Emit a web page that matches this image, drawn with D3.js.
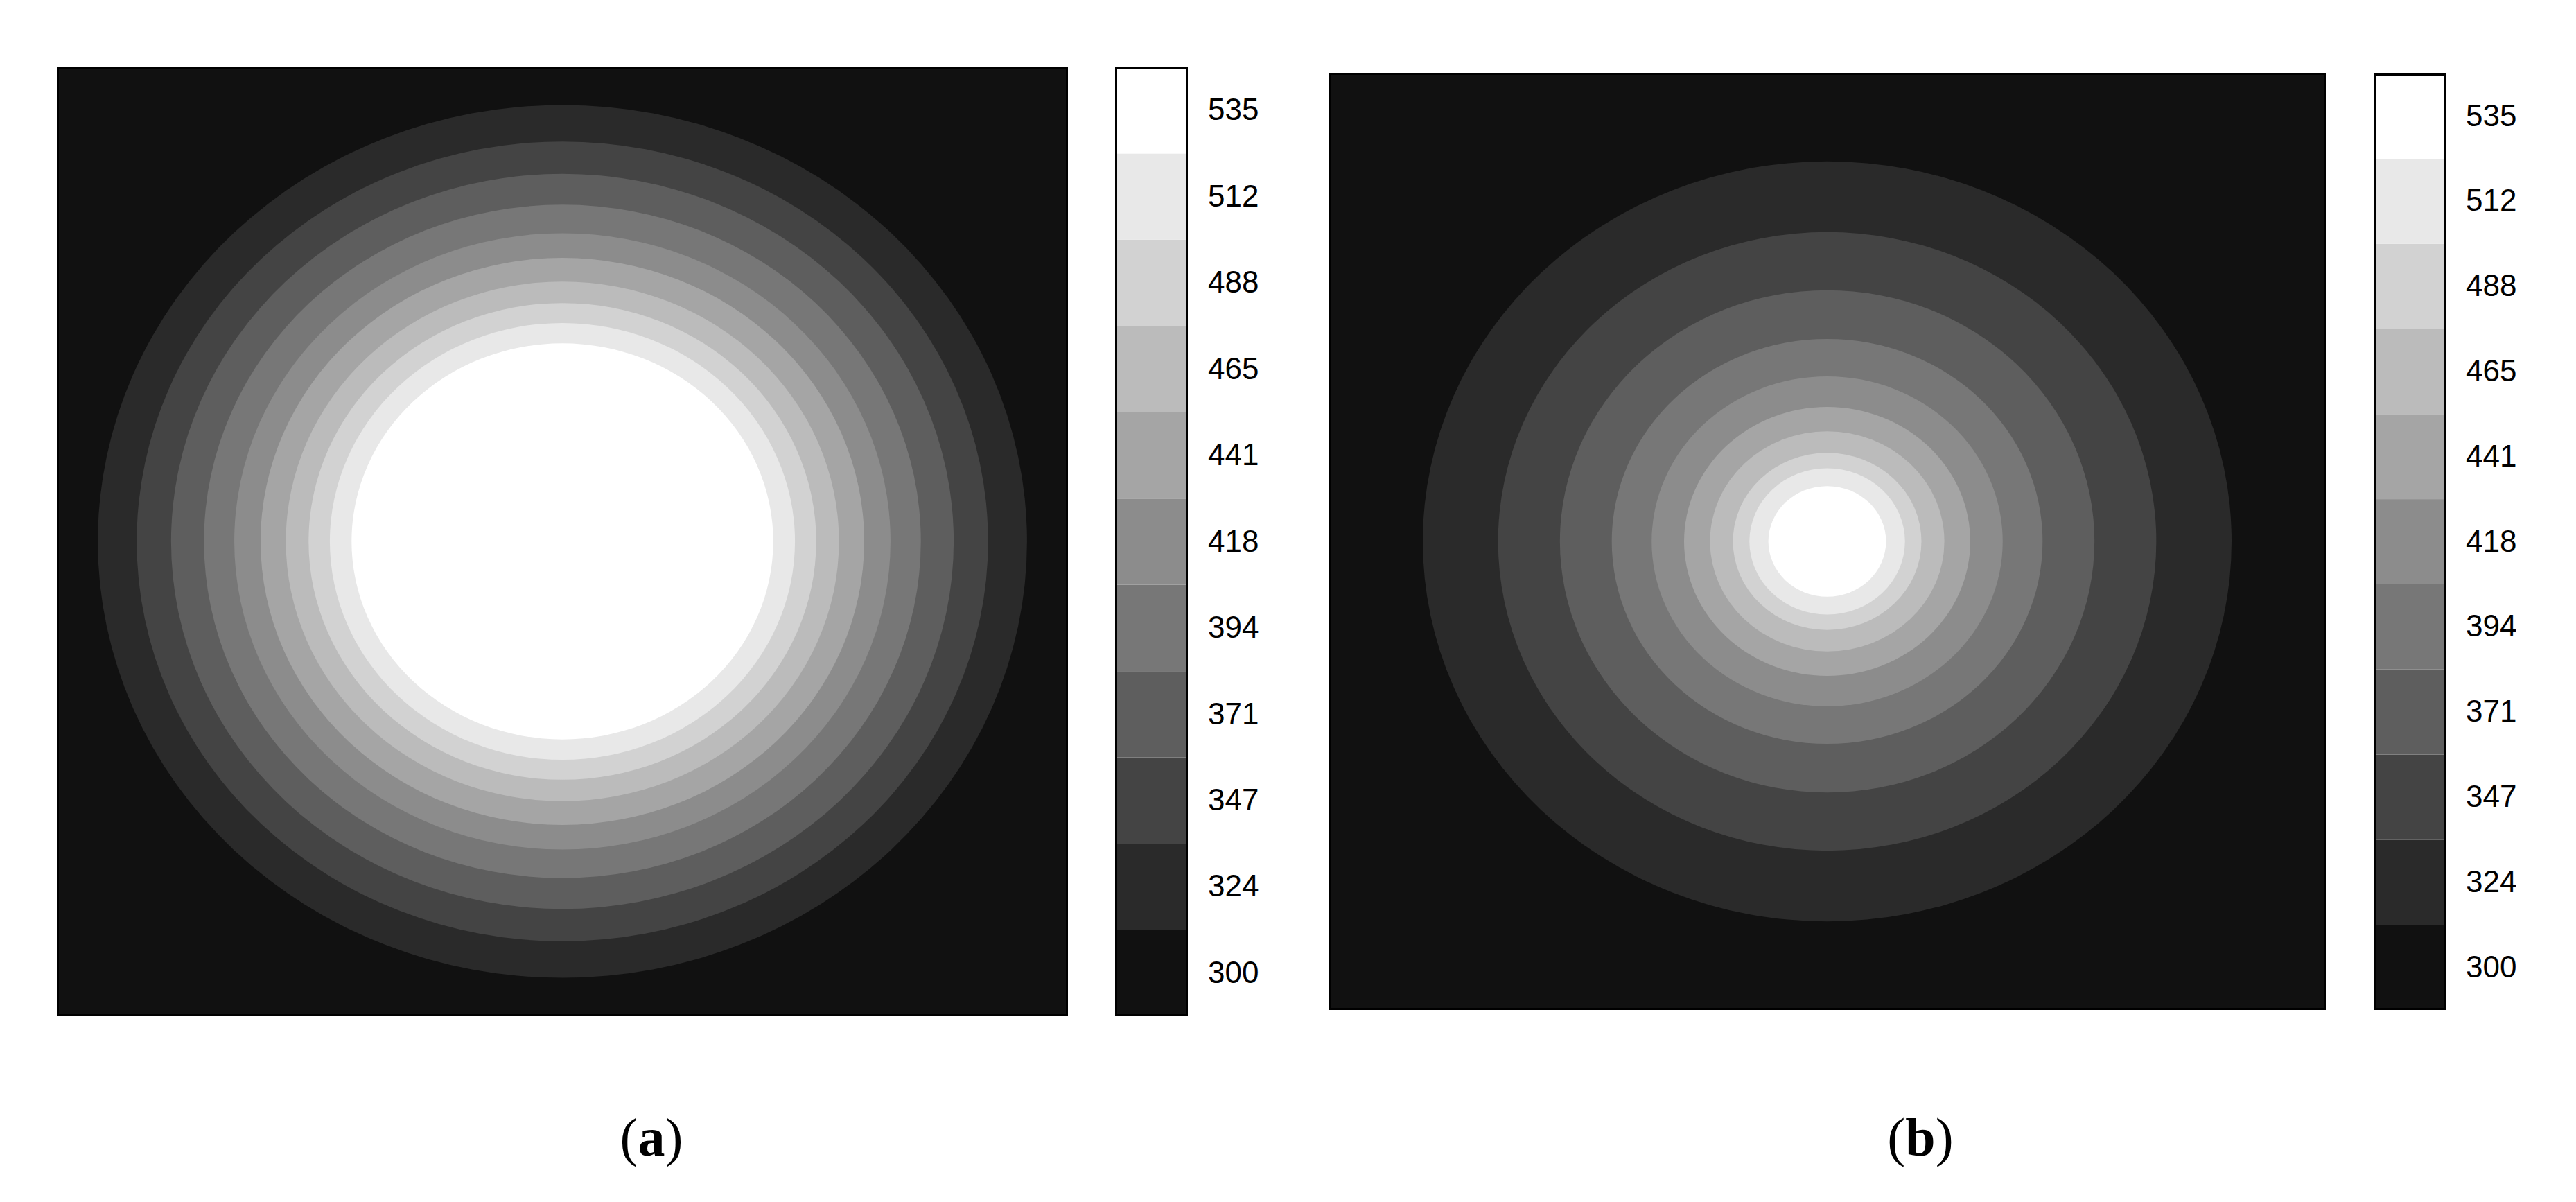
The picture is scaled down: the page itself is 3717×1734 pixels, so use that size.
<!DOCTYPE html>
<html>
<head>
<meta charset="utf-8">
<script src="https://cdn.jsdelivr.net/npm/d3@7"></script>
<style>
  body { margin: 0; background: #fff; }
  svg { display: block; }
</style>
</head>
<body>
<div id="chart"></div>
<script>
// contour levels (temperature) shown on the colour bars
const levelLabels = ["300", "324", "347", "371", "394", "418", "441", "465", "488", "512", "535"];
// grey of each band, lowest level first
const bandGreys = ["#111111", "#2a2a2a", "#444444", "#5e5e5e", "#777777", "#8c8c8c",
                   "#a5a5a5", "#bbbbbb", "#d2d2d2", "#e8e8e8", "#ffffff"];

// radius (fraction of half plate width) where band i turns into band i+1
const radiiA = [0.919, 0.842, 0.774, 0.709, 0.649, 0.597, 0.547, 0.502, 0.460, 0.417];
const radiiB = [0.811, 0.660, 0.536, 0.432, 0.352, 0.287, 0.235, 0.189, 0.156, 0.118];

const captions = ["a", "b"];

const width = 3717, height = 1734;

let svg = d3.select("#chart")
    .append("svg")
    .attr("width", width)
    .attr("height", height);

// panel geometry (pixels)
const panels = [
    { left: 82, right: 1541, top: 96, bottom: 1466,
      barLeft: 1609, barRight: 1714, barTop: 97, barBottom: 1466,
      radii: radiiA, caption: captions[0], capX: 940 },
    { left: 1917, right: 3356, top: 105, bottom: 1457,
      barLeft: 3425, barRight: 3529, barTop: 106, barBottom: 1457,
      radii: radiiB, caption: captions[1], capX: 2771 }
];

let drawPanel = (p) => {
    let g = svg.append("g");

    let x = d3.scaleLinear().domain([-1, 1]).range([p.left, p.right]);
    let y = d3.scaleLinear().domain([-1, 1]).range([p.bottom, p.top]);

    // background = lowest band
    g.append("rect")
        .attr("x", x(-1))
        .attr("y", y(1))
        .attr("width", x(1) - x(-1))
        .attr("height", y(-1) - y(1))
        .attr("fill", bandGreys[0]);

    // rings, outermost first so inner ones paint over
    g.selectAll("ellipse")
        .data(p.radii)
        .enter()
        .append("ellipse")
        .attr("cx", x(0))
        .attr("cy", y(0))
        .attr("rx", d => x(d) - x(0))
        .attr("ry", d => y(0) - y(d))
        .attr("fill", (d, i) => bandGreys[i + 1]);

    // frame
    g.append("rect")
        .attr("x", x(-1) + 1.5)
        .attr("y", y(1) + 1.5)
        .attr("width", x(1) - x(-1) - 3)
        .attr("height", y(-1) - y(1) - 3)
        .attr("fill", "none")
        .attr("stroke", "#000")
        .attr("stroke-width", 3);

    // colour bar
    let yBar = d3.scaleBand()
        .domain(levelLabels.slice().reverse())
        .range([p.barTop, p.barBottom]);

    g.selectAll(".band")
        .data(levelLabels)
        .enter()
        .append("rect")
        .attr("class", "band")
        .attr("x", p.barLeft)
        .attr("y", d => yBar(d))
        .attr("width", p.barRight - p.barLeft)
        .attr("height", yBar.bandwidth())
        .attr("fill", (d, i) => bandGreys[i]);

    g.append("rect")
        .attr("x", p.barLeft + 1.5)
        .attr("y", p.barTop + 1.5)
        .attr("width", p.barRight - p.barLeft - 3)
        .attr("height", p.barBottom - p.barTop - 3)
        .attr("fill", "none")
        .attr("stroke", "#000")
        .attr("stroke-width", 3);

    let axis = g.append("g")
        .attr("transform", `translate(${p.barRight}, 0)`)
        .call(d3.axisRight(yBar).tickSize(0).tickPadding(29));
    axis.select(".domain").remove();
    axis.attr("font-family", "'Liberation Sans Narrow', 'Arial Narrow', sans-serif")
        .attr("font-size", 44);
    axis.selectAll("text").attr("fill", "#000");

    // caption
    let cap = g.append("text")
        .attr("x", p.capX)
        .attr("y", 1667)
        .attr("text-anchor", "middle")
        .style("font-family", "'Liberation Serif', 'Times New Roman', serif")
        .style("font-size", "78px")
        .attr("fill", "#000");
    cap.append("tspan").text("(");
    cap.append("tspan").style("font-weight", "bold").text(p.caption);
    cap.append("tspan").text(")");
};

panels.forEach(drawPanel);
</script>
</body>
</html>
